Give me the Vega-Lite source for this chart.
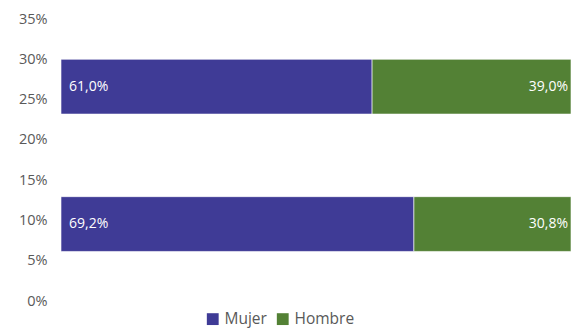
{
  "$schema": "https://vega.github.io/schema/vega-lite/v6.json",
  "width": 510,
  "height": 282,
  "autosize": {"type": "none"},
  "padding": {"left": 61, "top": 19, "right": 5, "bottom": 28},
  "config": {
    "view": {"stroke": null},
    "font": "Open Sans",
    "axis": {"labelFont": "Open Sans", "labelColor": "#595959", "labelFontSize": 14.5},
    "legend": {"labelFont": "Open Sans", "labelColor": "#595959", "labelFontSize": 15.5}
  },
  "data": {
    "values": [
      {"grupo": "A", "sexo": "Mujer", "valor": 0.61, "inicio": 0, "fin": 0.61, "ybajo": 0.232, "yalto": 0.30},
      {"grupo": "A", "sexo": "Hombre", "valor": 0.39, "inicio": 0.61, "fin": 1.0, "ybajo": 0.232, "yalto": 0.30},
      {"grupo": "B", "sexo": "Mujer", "valor": 0.692, "inicio": 0, "fin": 0.692, "ybajo": 0.0615, "yalto": 0.1295},
      {"grupo": "B", "sexo": "Hombre", "valor": 0.308, "inicio": 0.692, "fin": 1.0, "ybajo": 0.0615, "yalto": 0.1295}
    ]
  },
  "encoding": {
    "y": {
      "field": "ybajo", "type": "quantitative",
      "scale": {"domain": [0, 0.35], "nice": false},
      "axis": {"title": null, "format": ".0%", "values": [0, 0.05, 0.1, 0.15, 0.2, 0.25, 0.3, 0.35], "domain": false, "ticks": false, "grid": false, "labelPadding": 14}
    },
    "y2": {"field": "yalto"}
  },
  "layer": [
    {
      "mark": {"type": "bar", "stroke": "white", "strokeWidth": 0.6},
      "encoding": {
        "x": {"field": "inicio", "type": "quantitative", "scale": {"domain": [0, 1], "nice": false}, "axis": null},
        "x2": {"field": "fin"},
        "color": {
          "field": "sexo", "type": "nominal",
          "scale": {"domain": ["Mujer", "Hombre"], "range": ["#3F3B96", "#538135"]},
          "legend": {"title": null, "orient": "none", "direction": "horizontal", "legendX": 144, "legendY": 292, "symbolType": "square", "symbolSize": 140, "symbolStrokeWidth": 0, "columnPadding": 8, "labelOffset": 4}
        }
      }
    },
    {
      "transform": [{"filter": "datum.sexo === 'Mujer'"}, {"calculate": "(datum.ybajo + datum.yalto) / 2", "as": "ymedio"}, {"calculate": "replace(format(datum.valor, '.1%'), '.', ',')", "as": "etiqueta"}],
      "mark": {"type": "text", "align": "left", "baseline": "middle", "dx": 8, "color": "white", "fontSize": 14},
      "encoding": {
        "x": {"field": "inicio", "type": "quantitative"},
        "y": {"field": "ymedio", "type": "quantitative"},
        "y2": null,
        "text": {"field": "etiqueta", "type": "nominal"}
      }
    },
    {
      "transform": [{"filter": "datum.sexo === 'Hombre'"}, {"calculate": "(datum.ybajo + datum.yalto) / 2", "as": "ymedio"}, {"calculate": "replace(format(datum.valor, '.1%'), '.', ',')", "as": "etiqueta"}],
      "mark": {"type": "text", "align": "right", "baseline": "middle", "dx": -3, "color": "white", "fontSize": 14},
      "encoding": {
        "x": {"field": "fin", "type": "quantitative"},
        "y": {"field": "ymedio", "type": "quantitative"},
        "y2": null,
        "text": {"field": "etiqueta", "type": "nominal"}
      }
    }
  ]
}
